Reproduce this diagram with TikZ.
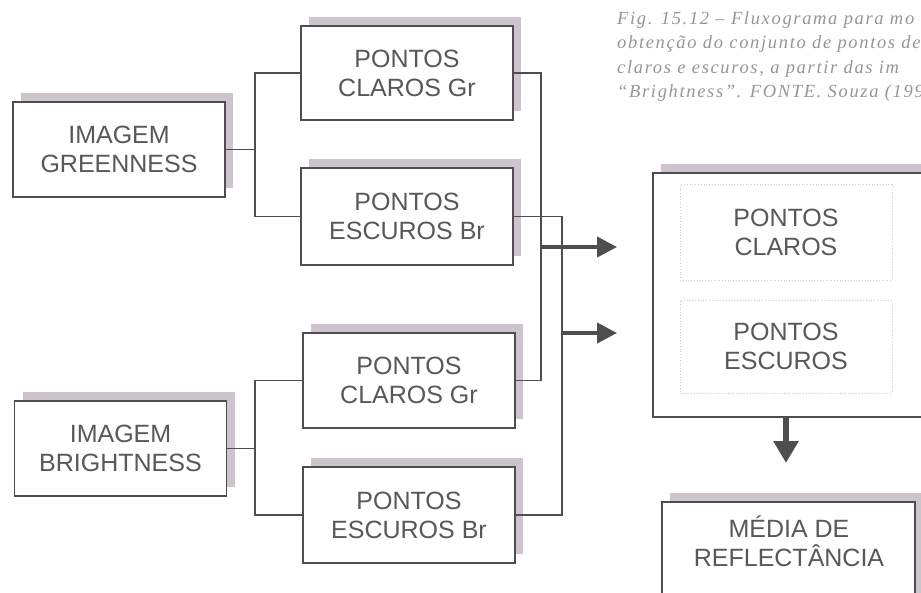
\documentclass[tikz,border=0pt]{standalone}
\usepackage{fontspec}
\setmainfont{Liberation Sans}
\newfontfamily\capfont[LetterSpace=9]{Liberation Serif}
\usetikzlibrary{shadows, arrows.meta}
\definecolor{boxgrey}{RGB}{78,78,78}
\definecolor{txtgrey}{RGB}{88,88,88}
\definecolor{shadepink}{RGB}{206,196,205}
\definecolor{capgrey}{RGB}{150,150,150}
\tikzset{
  box/.style={draw=boxgrey, line width=1.5pt, fill=white, text=txtgrey, align=center,
    font=\fontsize{25}{29}\selectfont, minimum width=212pt, minimum height=95pt, inner sep=0pt,
    drop shadow={shadow xshift=8pt, shadow yshift=9pt, fill=shadepink, opacity=1}},
  inbox/.style={draw=black!20, dotted, line width=0.8pt, text=txtgrey, align=center,
    font=\fontsize{25}{29}\selectfont, minimum width=212pt, inner sep=0pt},
  link/.style={draw=boxgrey, line width=1.1pt},
  flow/.style={draw=boxgrey, line width=4pt, -{Triangle[width=20pt,length=20pt]}},
  flowdown/.style={draw=boxgrey, line width=6pt, -{Triangle[width=24pt,length=22pt]}}
}
\begin{document}
\begin{tikzpicture}[x=1pt, y=-1pt]
\useasboundingbox (0,0) rectangle (921,592);
\clip (0,0) rectangle (921,592);
\fill[white] (0,0) rectangle (921,592);

\node[anchor=north west, align=left, text=capgrey, inner sep=0pt,
      font=\capfont\itshape\fontsize{18.5}{24.5}\selectfont] (caption) at (617,11)
  {Fig. 15.12 – Fluxograma para mo\\
   obtenção do conjunto de pontos de c\\
   claros e escuros, a partir das im\\
   “Brightness”. FONTE. Souza (199};

\node[box] (green) at (119,149.5) {IMAGEM\\GREENNESS};
\node[box] (bright) at (120.5,448.5) {IMAGEM\\BRIGHTNESS};
\node[box, minimum height=94pt] (tclaros) at (407,73) {PONTOS\\CLAROS Gr};
\node[box, minimum height=97pt] (tescuros) at (407,216.5) {PONTOS\\ESCUROS Br};
\node[box] (bclaros) at (409,380.5) {PONTOS\\CLAROS Gr};
\node[box, minimum height=96pt] (bescuros) at (409,515) {PONTOS\\ESCUROS Br};

\node[box, minimum width=288pt, minimum height=244pt] (big) at (797,295) {};
\node[inbox, minimum height=96pt] (claros) at (786,232) {PONTOS\\CLAROS};
\node[inbox, minimum height=93pt] (escuros) at (786,346.5) {PONTOS\\ESCUROS};

\node[box, minimum width=253pt, minimum height=110pt] (media) at (788.5,557) {};
\node[text=txtgrey, align=center, font=\fontsize{25}{29}\selectfont] (mtext) at (789,541)
  {MÉDIA DE\\REFLECTÂNCIA};

\coordinate (gsplit) at (255,149.5);
\coordinate (bsplit) at (255,448.5);
\coordinate (cbus) at (541,247);
\coordinate (ebus) at (562,333);
\coordinate (cin) at (617,247);
\coordinate (ein) at (617,333);
\coordinate (mtip) at (786,463);

\draw[link] (green.east) -- (gsplit);
\draw[link] (tclaros.west) -| (gsplit) |- (tescuros.west);
\draw[link] (bright.east) -- (bsplit);
\draw[link] (bclaros.west) -| (bsplit) |- (bescuros.west);
\draw[link] (tclaros.east) -| (cbus) |- (bclaros.east);
\draw[link] (tescuros.east) -| (ebus) |- (bescuros.east);

\draw[flow] (cbus) -- (cin);
\draw[flow] (ebus) -- (ein);
\draw[flowdown] (big.south -| claros) -- (mtip);
\end{tikzpicture}
\end{document}
